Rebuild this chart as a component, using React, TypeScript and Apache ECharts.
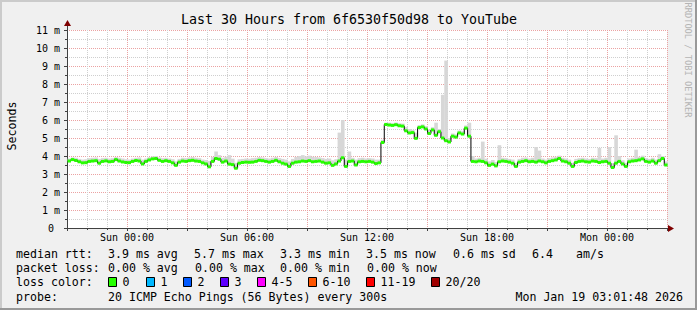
import React, { useEffect, useRef } from 'react';
import * as echarts from 'echarts';

// ---- data ----
const TITLE = 'Last 30 Hours from 6f6530f50d98 to YouTube';
const Y_NAME = 'Seconds';
const WATERMARK = 'RRDTOOL / TOBI OETIKER';
// first sample: Sat 21:01:48, expressed in hours relative to Sun 00:00
const START_H = -2.97;
const STEP_H = 1 / 6; // 10 minute bins

const medianRtt = [
  3.72, 3.80, 3.75, 3.68, 3.62, 3.63, 3.70, 3.72, 3.74, 3.60,
  3.70, 3.73, 3.68, 3.70, 3.80, 3.72, 3.67, 3.64, 3.63, 3.70,
  3.75, 3.72, 3.56, 3.70, 3.78, 3.84, 3.86, 3.76, 3.70, 3.74,
  3.70, 3.62, 3.48, 3.66, 3.72, 3.70, 3.74, 3.76, 3.72, 3.70,
  3.62, 3.56, 3.40, 3.70, 3.86, 3.82, 3.66, 3.72, 3.55, 3.52,
  3.32, 3.60, 3.64, 3.66, 3.65, 3.66, 3.70, 3.76, 3.74, 3.70,
  3.66, 3.70, 3.76, 3.68, 3.60, 3.55, 3.42, 3.60, 3.66, 3.68,
  3.72, 3.70, 3.74, 3.68, 3.70, 3.72, 3.66, 3.60, 3.62, 3.48,
  3.56, 3.72, 3.90, 3.42, 3.70, 3.72, 3.50, 3.68, 3.70, 3.68,
  3.70, 3.66, 3.58, 3.62, 4.75, 5.75, 5.72, 5.70, 5.74, 5.68,
  5.66, 5.40, 5.28, 5.30, 4.98, 5.58, 5.62, 5.50, 5.25, 5.45,
  5.15, 5.35, 5.00, 4.85, 4.78, 5.10, 5.05, 5.28, 5.22, 5.55,
  5.10, 3.70, 3.68, 3.72, 3.70, 3.62, 3.48, 3.55, 3.45, 3.68,
  3.72, 3.70, 3.66, 3.60, 3.42, 3.66, 3.70, 3.74, 3.68, 3.70,
  3.66, 3.72, 3.68, 3.62, 3.70, 3.74, 3.78, 3.86, 3.72, 3.68,
  3.60, 3.42, 3.64, 3.70, 3.72, 3.68, 3.66, 3.72, 3.70, 3.64,
  3.68, 3.70, 3.60, 3.36, 3.60, 3.70, 3.56, 3.42, 3.68, 3.72,
  3.74, 3.78, 3.84, 3.70, 3.66, 3.72, 3.60, 3.74, 3.86, 3.50,
];

const smokeMax = [
  3.86, 3.92, 3.90, 3.84, 3.80, 3.82, 3.88, 3.90, 3.92, 3.84,
  3.88, 3.90, 3.86, 3.88, 3.94, 3.90, 3.86, 3.82, 3.80, 3.86,
  3.90, 3.92, 3.80, 3.86, 3.94, 3.98, 4.00, 3.92, 3.88, 3.90,
  3.86, 3.82, 3.70, 3.84, 3.90, 3.88, 3.92, 3.94, 3.90, 3.88,
  3.80, 3.78, 3.72, 3.95, 4.25, 4.05, 3.90, 3.96, 4.05, 3.85,
  3.62, 3.82, 3.84, 3.86, 3.85, 3.88, 3.90, 3.94, 3.92, 3.88,
  3.86, 3.90, 3.95, 3.88, 3.84, 3.80, 3.70, 3.84, 3.95, 4.00,
  4.05, 3.98, 4.02, 3.96, 3.94, 3.92, 3.88, 3.84, 3.86, 3.76,
  3.82, 5.30, 6.00, 3.80, 4.25, 3.90, 3.80, 3.88, 3.90, 3.86,
  3.88, 3.86, 3.80, 3.80, 4.90, 5.85, 5.85, 5.82, 5.86, 5.82,
  5.80, 5.62, 5.50, 5.45, 5.30, 5.72, 5.76, 5.66, 5.45, 5.60,
  5.85, 5.50, 7.40, 9.30, 5.00, 5.25, 5.20, 5.42, 5.38, 5.70,
  5.85, 4.00, 3.86, 3.90, 4.80, 3.85, 3.70, 3.78, 3.66, 4.60,
  3.90, 3.88, 3.84, 3.80, 3.62, 3.84, 3.90, 3.92, 3.86, 3.90,
  4.50, 4.30, 3.86, 3.80, 3.88, 3.92, 3.96, 4.02, 3.90, 3.86,
  3.80, 3.62, 3.84, 3.88, 3.90, 3.86, 3.84, 3.90, 3.88, 4.45,
  3.86, 3.90, 4.50, 3.60, 5.15, 4.00, 3.76, 3.62, 3.86, 3.90,
  4.35, 3.96, 4.02, 3.88, 3.84, 3.90, 3.80, 4.10, 4.00, 3.70,
];

const xTickHours = [0, 6, 12, 18, 24];
const xTickLabels = ['Sun 00:00', 'Sun 06:00', 'Sun 12:00', 'Sun 18:00', 'Mon 00:00'];

const rttLabel = 'median rtt:';
const rttStats = ['3.9 ms avg', '5.7 ms max', '3.3 ms min', '3.5 ms now', '0.6 ms sd', '6.4', 'am/s'];
const lossLabel = 'packet loss:';
const lossStats = ['0.00 % avg', '0.00 % max', '0.00 % min', '0.00 % now'];
const lossColorLabel = 'loss color:';
const lossColorNames = ['0', '1', '2', '3', '4-5', '6-10', '11-19', '20/20'];
const lossColors = ['#26ff00', '#00b8ff', '#0059ff', '#5e00ff', '#ff00ff', '#ff5500', '#ff0000', '#a00000'];
const probeLabel = 'probe:';
const probeText = '20 ICMP Echo Pings (56 Bytes) every 300s';
const stampText = 'Mon Jan 19 03:01:48 2026';

// ---- layout ----
const W = 697;
const H = 310;
const FONT = '"DejaVu Sans Mono", monospace';
const LEG_FS = 11.6;
const rowY = [254, 268, 282, 297];
const rttX = [108, 194, 280, 366, 453, 532, 576];
const lossX = [108, 195, 280, 367];
const boxX = [108, 146, 183, 220, 257, 308, 366, 431];

function txt(text: string, x: number, y: number, extra: any = {}) {
  return {
    type: 'text',
    x,
    y,
    silent: true,
    style: {
      text,
      fontFamily: FONT,
      fontSize: LEG_FS,
      fill: '#000',
      align: 'left',
      verticalAlign: 'middle',
      ...extra,
    },
  };
}

export default function App() {
  const ref = useRef<HTMLDivElement>(null);

  useEffect(() => {
    if (!ref.current) return;
    const chart = echarts.init(ref.current, null, { renderer: 'svg' });

    const times = medianRtt.map((_, i) => START_H + (i + 0.5) * STEP_H);
    const baseData = times.map((t, i) => [t, medianRtt[i]]);
    const smokeData = times.map((t, i) => [t, medianRtt[i], smokeMax[i]]);

    const axisColor = '#404040';
    const minorColor = '#cfcfcf';
    const majorColor = '#eba2a2';

    const xBase: any = {
      type: 'value',
      min: -3,
      max: 27,
      position: 'bottom',
      axisLine: { show: false, onZero: false },
      axisLabel: { show: false },
      axisTick: { show: false },
    };
    const yBase: any = {
      type: 'value',
      min: 0,
      max: 11,
      position: 'left',
      axisLine: { show: false, onZero: false },
      axisLabel: { show: false },
      axisTick: { show: false },
    };

    const graphic: any[] = [
      { type: 'line', silent: true, shape: { x1: 0, y1: 1, x2: W, y2: 1 }, style: { stroke: '#cbcbcb', lineWidth: 2 } },
      { type: 'line', silent: true, shape: { x1: 1, y1: 0, x2: 1, y2: H }, style: { stroke: '#cbcbcb', lineWidth: 2 } },
      { type: 'line', silent: true, shape: { x1: 0, y1: H - 1, x2: W, y2: H - 1 }, style: { stroke: '#999999', lineWidth: 2 } },
      { type: 'line', silent: true, shape: { x1: W - 1, y1: 0, x2: W - 1, y2: H }, style: { stroke: '#999999', lineWidth: 2 } },
      // axis extensions and arrows
      { type: 'line', silent: true, shape: { x1: 67.5, y1: 31, x2: 67.5, y2: 25 }, style: { stroke: axisColor, lineWidth: 1 } },
      { type: 'polygon', silent: true, shape: { points: [[64, 26], [71, 26], [67.5, 20]] }, style: { fill: '#7f0000' } },
      { type: 'line', silent: true, shape: { x1: 666, y1: 228.5, x2: 669, y2: 228.5 }, style: { stroke: axisColor, lineWidth: 1 } },
      { type: 'polygon', silent: true, shape: { points: [[668, 225], [668, 232], [674, 228.5]] }, style: { fill: '#7f0000' } },
      // title, axis name, watermark
      txt(TITLE, 349, 19.5, { fontSize: 13.3, align: 'center' }),
      { ...txt(Y_NAME, 12, 126, { align: 'center' }), rotation: Math.PI / 2 },
      { ...txt(WATERMARK, 688, 60, { align: 'center', fontSize: 8.7, fill: '#b4b4b4' }), rotation: -Math.PI / 2 },
      // legend rows
      txt(rttLabel, 16, rowY[0]),
      ...rttStats.map((s, i) => txt(s, rttX[i], rowY[0])),
      txt(lossLabel, 16, rowY[1]),
      ...lossStats.map((s, i) => txt(s, lossX[i], rowY[1])),
      txt(lossColorLabel, 16, rowY[2]),
      ...lossColorNames.flatMap((s, i) => [
        {
          type: 'rect',
          silent: true,
          shape: { x: boxX[i] + 0.5, y: rowY[2] - 4.5, width: 8, height: 9 },
          style: { fill: lossColors[i], stroke: '#000', lineWidth: 1 },
        },
        txt(s, boxX[i] + 14.5, rowY[2]),
      ]),
      txt(probeLabel, 16, rowY[3]),
      txt(probeText, 108, rowY[3]),
      txt(stampText, 683, rowY[3], { align: 'right' }),
    ];

    chart.setOption({
      animation: false,
      backgroundColor: '#f0f0f0',
      grid: {
        left: 67,
        right: W - 667,
        top: 30,
        bottom: H - 228,
        show: true,
        backgroundColor: '#ffffff',
        borderWidth: 0,
      },
      xAxis: [
        {
          ...xBase,
          interval: 1,
          axisTick: { show: true, length: 2, lineStyle: { color: axisColor } },
          splitLine: { show: true, lineStyle: { color: ['transparent', minorColor, minorColor], type: [1, 1], width: 1 } },
        },
        {
          ...xBase,
          interval: 3,
          axisLine: { show: true, onZero: false, lineStyle: { color: axisColor, width: 1 } },
          axisTick: { show: true, length: 3, lineStyle: { color: axisColor } },
          axisLabel: {
            show: true,
            margin: 4,
            fontSize: 10,
            fontFamily: FONT,
            color: '#000',
            formatter: (v: number) => {
              const k = xTickHours.indexOf(Math.round(v));
              return k >= 0 ? xTickLabels[k] : '';
            },
          },
          splitLine: { show: true, lineStyle: { color: majorColor, type: [1, 1], width: 1 } },
        },
      ],
      yAxis: [
        {
          ...yBase,
          interval: 0.5,
          axisTick: { show: true, length: 2, lineStyle: { color: axisColor } },
          splitLine: { show: true, lineStyle: { color: ['transparent', minorColor], type: [1, 1], width: 1 } },
        },
        {
          ...yBase,
          interval: 1,
          axisLine: { show: true, onZero: false, lineStyle: { color: axisColor, width: 1 } },
          axisTick: { show: true, length: 3, lineStyle: { color: axisColor } },
          axisLabel: {
            show: true,
            margin: 7,
            fontSize: 10,
            fontFamily: FONT,
            color: '#000',
            formatter: (v: number) => (v === 0 ? '{z|0}' : `${v} m`),
            rich: { z: { fontSize: 10, fontFamily: FONT, color: '#000', padding: [0, 6, 0, 0] } },
          },
          splitLine: { show: true, lineStyle: { color: majorColor, type: [1, 1], width: 1 } },
        },
      ],
      series: [
        {
          type: 'custom',
          name: 'smoke',
          xAxisIndex: 1,
          yAxisIndex: 1,
          data: smokeData,
          silent: true,
          z: 1,
          encode: { x: 0, y: [1, 2] },
          renderItem: (params: any, api: any) => {
            const t = api.value(0);
            const lo = api.value(1);
            const hi = api.value(2);
            const p1 = api.coord([t - STEP_H / 2, hi]);
            const p2 = api.coord([t + STEP_H / 2, lo]);
            return {
              type: 'rect',
              shape: { x: p1[0], y: p1[1], width: p2[0] - p1[0] + 0.3, height: p2[1] - p1[1] },
              style: { fill: '#d7d7d7' },
            };
          },
        },
        {
          type: 'line',
          name: 'median rtt',
          xAxisIndex: 1,
          yAxisIndex: 1,
          data: baseData,
          step: 'middle',
          symbol: 'none',
          silent: true,
          lineStyle: { color: '#000', width: 1 },
          z: 3,
        },
        {
          type: 'scatter',
          name: 'loss 0',
          xAxisIndex: 1,
          yAxisIndex: 1,
          data: baseData,
          symbol: 'rect',
          symbolSize: [3.4, 3],
          silent: true,
          itemStyle: { color: '#26ff00', opacity: 1 },
          z: 4,
        },
      ],
      graphic,
    });

    return () => {
      chart.dispose();
    };
  }, []);

  return (
    <div
      ref={ref}
      style={{ position: 'absolute', left: 0, top: 0, width: W, height: H }}
    />
  );
}
